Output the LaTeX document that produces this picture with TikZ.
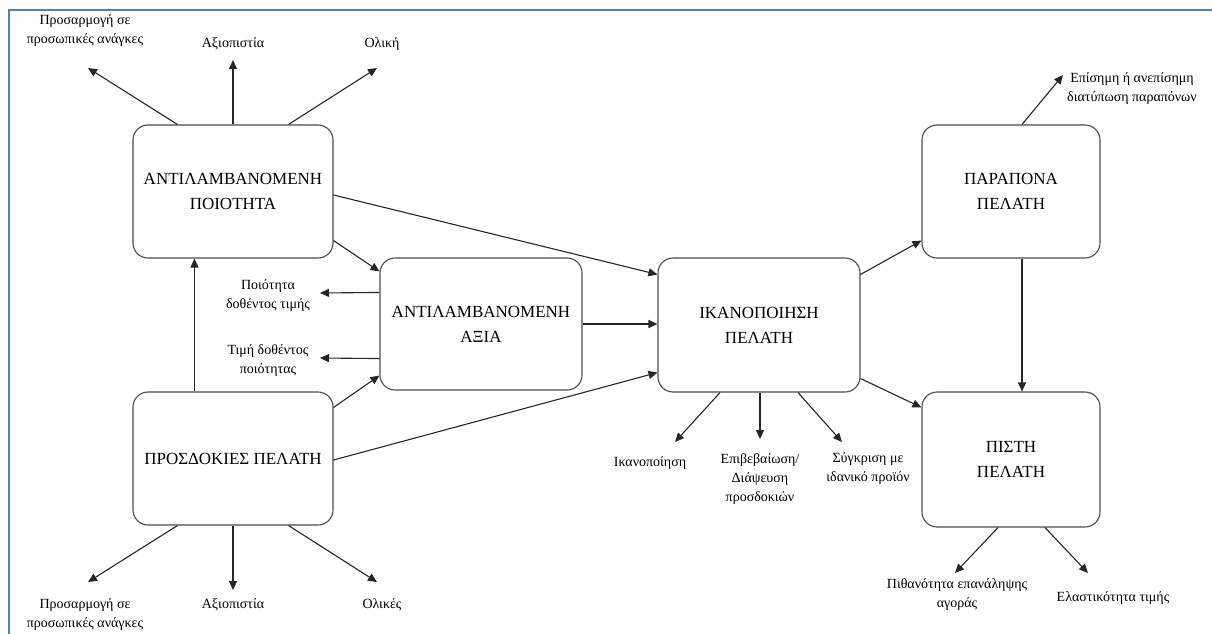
\documentclass[tikz,border=0pt]{standalone}
\usepackage{fontspec}
\setmainfont{Liberation Serif}
\usetikzlibrary{arrows.meta}
\definecolor{frameblue}{HTML}{4F81BD}
\begin{document}
\begin{tikzpicture}[x=1pt,y=-1pt,
  box/.style={draw=black!70, line width=1.1pt, rounded corners=15pt, align=center,
    inner sep=0pt, font=\fontsize{17}{25}\selectfont, fill=white},
  lbl/.style={align=center, inner sep=0pt, font=\fontsize{14}{19}\selectfont},
  arr/.style={draw=black!85, line width=1.1pt, -{Triangle[length=9pt,width=8pt]}},
  frameline/.style={draw=frameblue, line width=2pt}]
\useasboundingbox (0,0) rectangle (1212,634);
\draw[frameline] (8,10) -- (1212,10);
\draw[frameline] (9,10) -- (9,634);

% boxes
\node[box, minimum width=200pt, minimum height=133pt] (aq) at (233,191.5) {ΑΝΤΙΛΑΜΒΑΝΟΜΕΝΗ\\ΠΟΙΟΤΗΤΑ};
\node[box, minimum width=200pt, minimum height=133pt] (ex) at (233,458.5) {ΠΡΟΣΔΟΚΙΕΣ ΠΕΛΑΤΗ};
\node[box, minimum width=202pt, minimum height=132pt] (pv) at (481,324) {ΑΝΤΙΛΑΜΒΑΝΟΜΕΝΗ\\ΑΞΙΑ};
\node[box, minimum width=202pt, minimum height=134pt] (sat) at (759,325) {ΙΚΑΝΟΠΟΙΗΣΗ\\ΠΕΛΑΤΗ};
\node[box, minimum width=178pt, minimum height=133pt] (comp) at (1011,191.5) {ΠΑΡΑΠΟΝΑ\\ΠΕΛΑΤΗ};
\node[box, minimum width=178pt, minimum height=135pt] (loy) at (1011,459.5) {ΠΙΣΤΗ\\ΠΕΛΑΤΗ};

% labels
\node[lbl] (t1) at (85,31) {Προσαρμογή σε\\προσωπικές ανάγκες};
\node[lbl] (t2) at (233,44) {Αξιοπιστία};
\node[lbl] (t3) at (382,44) {Ολική};
\node[lbl] (b1) at (85,615) {Προσαρμογή σε\\προσωπικές ανάγκες};
\node[lbl] (b2) at (233,605) {Αξιοπιστία};
\node[lbl] (b3) at (382,605) {Ολικές};
\node[lbl] (v1) at (268,296) {Ποιότητα\\δοθέντος τιμής};
\node[lbl] (v2) at (268,361) {Τιμή δοθέντος\\ποιότητας};
\node[lbl] (s1) at (650,463) {Ικανοποίηση};
\node[lbl] (s2) at (760,479) {Επιβεβαίωση/\\Διάψευση\\προσδοκιών};
\node[lbl] (s3) at (868,469) {Σύγκριση με\\ιδανικό προϊόν};
\node[lbl, anchor=west] (c1) at (1067,89) {Επίσημη ή ανεπίσημη\\διατύπωση παραπόνων};
\node[lbl] (l1) at (957,595) {Πιθανότητα επανάληψης\\αγοράς};
\node[lbl] (l2) at (1113,598) {Ελαστικότητα τιμής};

% arrow tips near labels
\coordinate (t1a) at (88,68);
\coordinate (t2a) at (233,60);
\coordinate (t3a) at (377,68);
\coordinate (b1a) at (88,582);
\coordinate (b2a) at (233,590);
\coordinate (b3a) at (377,582);
\coordinate (v1a) at (320,293);
\coordinate (v2a) at (320,358);
\coordinate (s1a) at (675,442);
\coordinate (s2a) at (760,439);
\coordinate (s3a) at (842,442);
\coordinate (c1a) at (1063,75);
\coordinate (l1a) at (955,573);
\coordinate (l2a) at (1088,573);

% connectors
\draw[arr] ([xshift=45pt]aq.north west) -- (t1a);
\draw[arr] (aq.north) -- (t2a);
\draw[arr] ([xshift=-45pt]aq.north east) -- (t3a);
\draw[arr] ([xshift=45pt]ex.south west) -- (b1a);
\draw[arr] (ex.south) -- (b2a);
\draw[arr] ([xshift=-45pt]ex.south east) -- (b3a);
\draw[arr] ([xshift=62pt]ex.north west) -- ([xshift=62pt]aq.south west);
\draw[arr] ([yshift=18pt]aq.south east) -- ([yshift=-14pt]pv.north west);
\draw[arr] ([yshift=-16pt]ex.north east) -- ([yshift=15pt]pv.south west);
\draw[arr] ([yshift=-35pt]pv.north west) -- (v1a);
\draw[arr] ([yshift=32pt]pv.south west) -- (v2a);
\draw[arr] ([yshift=-3.5pt]aq.east) -- ([yshift=-17pt]sat.north west);
\draw[arr] (pv.east) -- (pv.east -| sat.west);
\draw[arr] ([yshift=-1.5pt]ex.east) -- ([yshift=20pt]sat.south west);
\draw[arr] ([yshift=-17pt]sat.north east) -- ([yshift=18pt]comp.south west);
\draw[arr] ([yshift=14pt]sat.south east) -- ([yshift=-16pt]loy.north west);
\draw[arr] ([xshift=11pt]comp.south) -- ([xshift=11pt]loy.north);
\draw[arr] ([xshift=11pt]comp.north) -- (c1a);
\draw[arr] ([xshift=-39pt]sat.south) -- (s1a);
\draw[arr] ([xshift=1pt]sat.south) -- (s2a);
\draw[arr] ([xshift=39pt]sat.south) -- (s3a);
\draw[arr] ([xshift=-13pt]loy.south) -- (l1a);
\draw[arr] ([xshift=34pt]loy.south) -- (l2a);
\end{tikzpicture}
\end{document}
